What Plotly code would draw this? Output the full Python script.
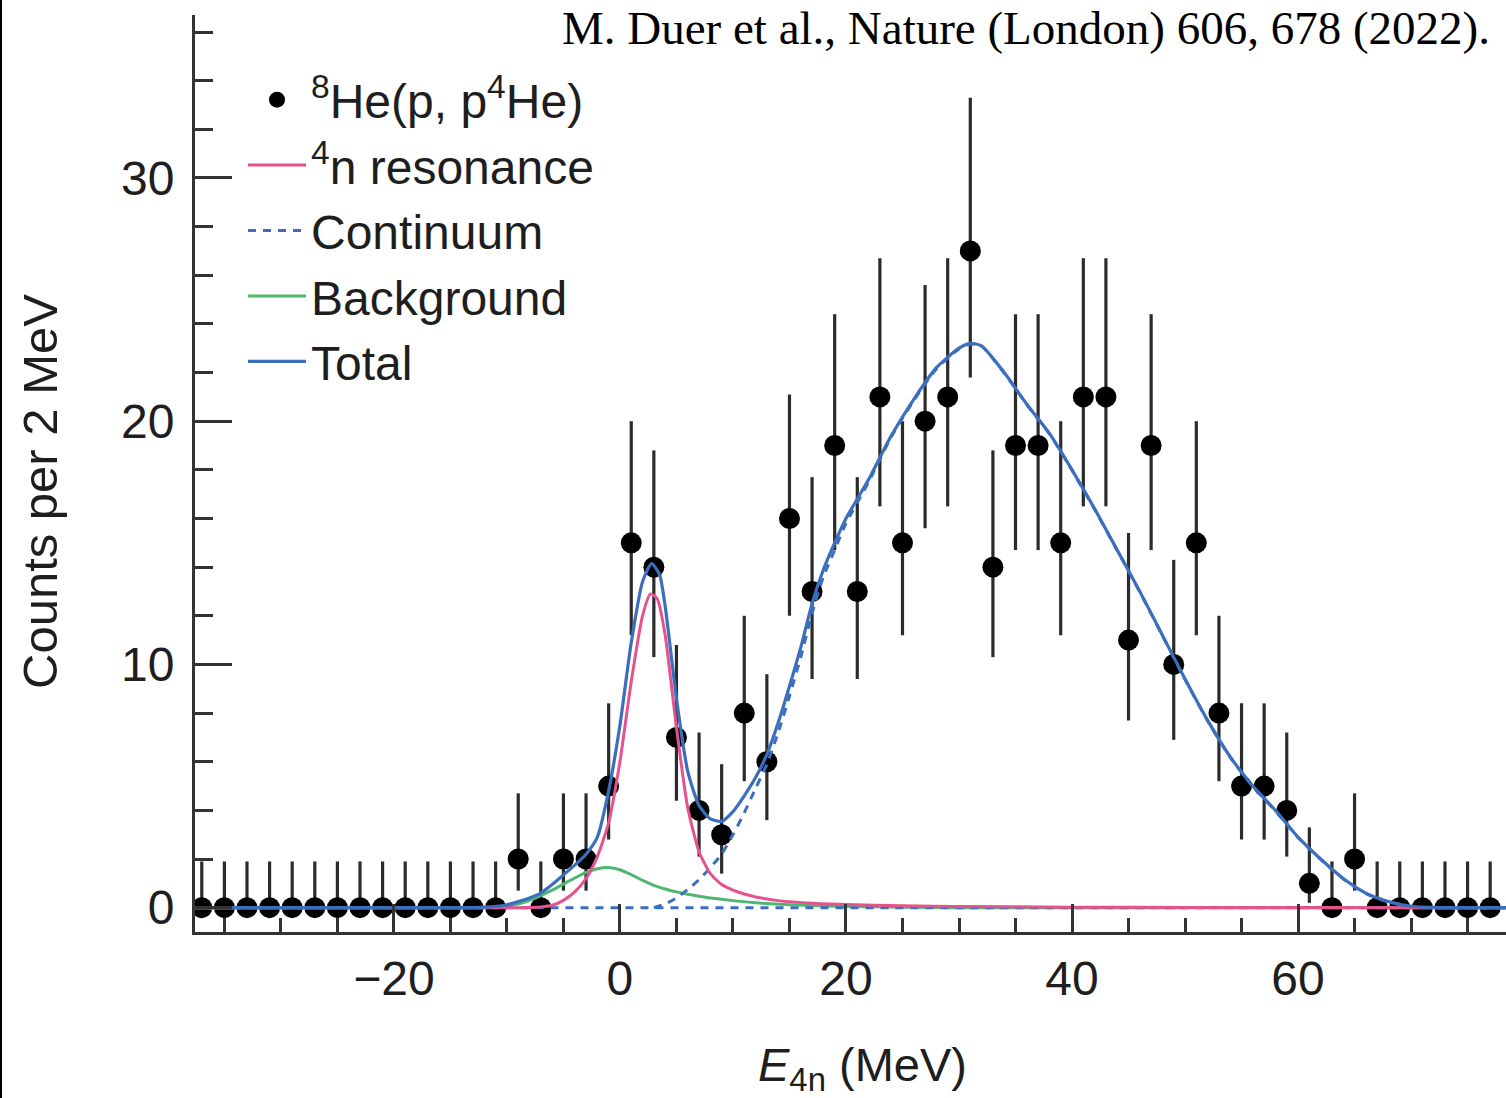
import plotly.graph_objects as go

# ---------------- data ----------------
data_x = [-37, -35, -33, -31, -29, -27, -25, -23, -21, -19, -17, -15, -13, -11,
          -9, -7, -5, -3, -1, 1, 3, 5, 7, 9, 11, 13, 15, 17, 19, 21, 23, 25, 27, 29,
          31, 33, 35, 37, 39, 41, 43, 45, 47, 49, 51, 53, 55, 57, 59, 61, 63, 65,
          67, 69, 71, 73, 75, 77]
data_counts = [0, 0, 0, 0, 0, 0, 0, 0, 0, 0, 0, 0, 0, 0,
               2, 0, 2, 2, 5, 15, 14, 7, 4, 3, 8, 6, 16, 13, 19, 13, 21, 15, 20, 21,
               27, 14, 19, 19, 15, 21, 21, 11, 19, 10, 15, 8, 5, 5, 4, 1, 0, 2,
               0, 0, 0, 0, 0, 0]
err_up = [1.9, 1.9, 1.9, 1.9, 1.9, 1.9, 1.9, 1.9, 1.9, 1.9, 1.9, 1.9, 1.9, 1.9,
          2.7, 1.9, 2.7, 2.7, 3.4, 5.0, 4.8, 3.8, 3.2, 2.9, 4.0, 3.6, 5.1, 4.7, 5.4, 4.7, 5.7, 5.0, 5.6, 5.7,
          6.3, 4.8, 5.4, 5.4, 5.0, 5.7, 5.7, 4.4, 5.4, 4.3, 5.0, 4.0, 3.4, 3.4, 3.2, 2.3, 1.9, 2.7,
          1.9, 1.9, 1.9, 1.9, 1.9, 1.9]
err_down = [0, 0, 0, 0, 0, 0, 0, 0, 0, 0, 0, 0, 0, 0,
            1.3, 0, 1.3, 1.3, 2.2, 3.8, 3.7, 2.6, 1.9, 1.6, 2.8, 2.4, 4.0, 3.6, 4.3, 3.6, 4.5, 3.8, 4.4, 4.5,
            5.2, 3.7, 4.3, 4.3, 3.8, 4.5, 4.5, 3.3, 4.3, 3.1, 3.8, 2.8, 2.2, 2.2, 1.9, 0.8, 0, 1.3,
            0, 0, 0, 0, 0, 0]

resonance_x = [-38, -9, -8, -7, -6, -5, -4, -3, -2, -1, 0, 1, 2, 2.7, 3.3, 4, 5, 6, 7, 8, 9,
               10, 11, 12, 14, 17, 20, 25, 30, 40, 50, 78.5]
resonance_y = [0, 0, 0.01, 0.03, 0.1, 0.3, 0.65, 1.2, 2.1, 3.5, 6.0, 9.3, 12.0, 12.9, 12.7, 11.2,
               7.4, 4.1, 2.3, 1.4, 0.95, 0.72, 0.56, 0.44, 0.29, 0.18, 0.13, 0.08, 0.05, 0.02, 0.01, 0]

background_x = [-38, -12, -11, -10, -9, -8, -7, -6, -5, -4, -3, -2, -1, 0, 1, 2, 3, 4, 5, 6, 7, 8,
                10, 12, 15, 20, 25, 30, 78.5]
background_y = [0, 0, 0.02, 0.06, 0.15, 0.3, 0.5, 0.72, 0.97, 1.22, 1.45, 1.6, 1.65, 1.56, 1.36,
                1.12, 0.92, 0.77, 0.65, 0.55, 0.47, 0.4, 0.29, 0.2, 0.12, 0.05, 0.02, 0.0, 0]

continuum_x = [3, 4, 5, 6, 7, 8, 9, 10, 11, 12, 13, 14, 15, 16, 17, 18, 19, 20, 22, 24, 26, 28,
               30, 31, 32, 34, 36, 38, 40, 42, 44, 46, 48, 50, 52, 54, 56, 58, 60, 62, 64, 66,
               68, 70, 72, 78.5]
continuum_y = [0, 0.15, 0.4, 0.75, 1.15, 1.65, 2.2, 3.0, 3.9, 4.9, 5.9, 7.2, 8.7, 10.3, 12.1, 13.6,
               14.7, 15.8, 17.5, 19.35, 20.85, 22.15, 22.97, 23.17, 23.08, 21.98, 20.68, 19.48,
               17.98, 16.38, 14.68, 12.98, 11.18, 9.38, 7.68, 6.18, 4.98, 3.98, 2.88, 1.98, 1.18,
               0.58, 0.24, 0.05, 0.0, 0]
continuum_base_x = [-38, 78.5]
continuum_base_y = [0, 0]

total_x = [-38, -14, -12, -11, -10, -9, -8, -7, -6, -5, -4, -3, -2, -1, 0, 1, 2, 2.8, 3.5, 4, 5,
           6, 7, 8, 9, 10, 11, 12, 13, 14, 15, 16, 17, 18, 19, 20, 22, 24, 26, 28, 30, 31, 32,
           34, 36, 38, 40, 42, 44, 46, 48, 50, 52, 54, 56, 58, 60, 62, 64, 66, 68, 70, 72, 78.5]
total_y = [0, 0, 0.02, 0.05, 0.12, 0.25, 0.4, 0.6, 0.95, 1.35, 1.75, 2.2, 2.9, 4.8, 7.5, 10.9,
           13.4, 14.15, 13.7, 12.4, 8.6, 5.6, 4.2, 3.65, 3.55, 3.95, 4.6, 5.35, 6.3, 7.6, 9.1,
           10.7, 12.5, 13.9, 15.0, 16.0, 17.6, 19.4, 20.9, 22.2, 23.0, 23.2, 23.1, 22.0, 20.7,
           19.5, 18.0, 16.4, 14.7, 13.0, 11.2, 9.4, 7.7, 6.2, 5.0, 4.0, 2.9, 2.0, 1.2, 0.6,
           0.25, 0.06, 0.01, 0]

x_ticks = [-20, 0, 20, 40, 60]
y_ticks = [0, 10, 20, 30]

legend_names = ["<sup>8</sup>He(p, p<sup>4</sup>He)", "<sup>4</sup>n resonance",
                "Continuum", "Background", "Total"]
x_title = "<i>E</i><sub>4n</sub> (MeV)"
y_title = "Counts per 2 MeV"
citation = "M. Duer et al., Nature (London) 606, 678 (2022)."

# ---------------- styling ----------------
PINK = "#e5528c"
BLUE = "#3b6fbe"
GREEN = "#4fb870"
INK = "#1e1e1e"
SANS = "Liberation Sans, Arial, Helvetica, sans-serif"
SERIF = "Liberation Serif, Times New Roman, serif"

W, H = 1506, 1098
ML, MR, MT, MB = 195, 0, 15, 166
PW, PH = W - ML - MR, H - MT - MB


def px_x(p):
    return (p - ML) / PW


def px_y(p):
    return 1 - (p - MT) / PH


fig = go.Figure()

fig.add_trace(go.Scatter(
    x=data_x, y=data_counts, mode="markers", name=legend_names[0], legendrank=1,
    marker=dict(color="black", size=21),
    error_y=dict(type="data", symmetric=False, array=err_up, arrayminus=err_down,
                 color="#2b2b2b", thickness=3.2, width=0),
))
fig.add_trace(go.Scatter(
    x=background_x, y=background_y, mode="lines", name=legend_names[3], legendrank=4,
    line=dict(color=GREEN, width=3, shape="spline", smoothing=0.6),
))
fig.add_trace(go.Scatter(
    x=continuum_base_x, y=continuum_base_y, mode="lines", showlegend=False,
    line=dict(color=BLUE, width=3, dash="8px,7px"), hoverinfo="skip",
))
fig.add_trace(go.Scatter(
    x=continuum_x, y=continuum_y, mode="lines", name=legend_names[2], legendrank=3,
    line=dict(color=BLUE, width=3, dash="8px,7px", shape="spline", smoothing=0.6),
))
fig.add_trace(go.Scatter(
    x=resonance_x, y=resonance_y, mode="lines", name=legend_names[1], legendrank=2,
    line=dict(color=PINK, width=3, shape="spline", smoothing=0.6),
))
fig.add_trace(go.Scatter(
    x=total_x, y=total_y, mode="lines", name=legend_names[4], legendrank=5,
    line=dict(color=BLUE, width=3.2, shape="spline", smoothing=0.6),
))

axis_common = dict(
    showgrid=False, zeroline=False, showline=True, linecolor="#333333", linewidth=3,
    ticks="inside", tickwidth=3, tickcolor="#333333",
    tickfont=dict(family=SANS, size=48, color=INK), automargin=False,
)

fig.update_xaxes(
    **axis_common, range=[-37.6, 78.4], tickvals=x_ticks, ticklen=28,
    minor=dict(dtick=5, tick0=0, ticklen=14, tickwidth=3, tickcolor="#333333", ticks="inside"),
    ticklabelstandoff=2,
)
fig.update_yaxes(
    **axis_common, range=[-1, 36.7], tickvals=y_ticks, ticklen=37,
    minor=dict(dtick=2, tick0=0, ticklen=18, tickwidth=3, tickcolor="#333333", ticks="inside"),
    ticklabelstandoff=8,
)

fig.update_layout(
    width=W, height=H,
    margin=dict(l=ML, r=MR, t=MT, b=MB, pad=0),
    paper_bgcolor="white", plot_bgcolor="white",
    showlegend=True,
    legend=dict(x=px_x(243), y=px_y(62), xanchor="left", yanchor="top",
                bgcolor="rgba(0,0,0,0)", font=dict(family=SANS, size=48, color=INK),
                itemwidth=58, tracegroupgap=0, itemsizing="trace"),
    annotations=[
        dict(text=citation, xref="paper", yref="paper", x=px_x(1492), y=px_y(0),
             xanchor="right", yanchor="top", showarrow=False,
             font=dict(family=SERIF, size=47, color="black")),
        dict(text=y_title, xref="paper", yref="paper", x=px_x(40), y=px_y(492),
             xanchor="center", yanchor="middle", textangle=-90, showarrow=False,
             font=dict(family=SANS, size=49, color=INK)),
        dict(text=x_title, xref="paper", yref="paper", x=px_x(862), y=px_y(1068),
             xanchor="center", yanchor="middle", showarrow=False,
             font=dict(family=SANS, size=47, color=INK)),
    ],
    shapes=[dict(type="line", xref="paper", yref="paper", x0=px_x(1), x1=px_x(1),
                 y0=px_y(0), y1=px_y(H), line=dict(color="black", width=2))],
)

fig.write_html("out.html", config={"displayModeBar": False},
               post_script="document.body.style.margin='0';")
